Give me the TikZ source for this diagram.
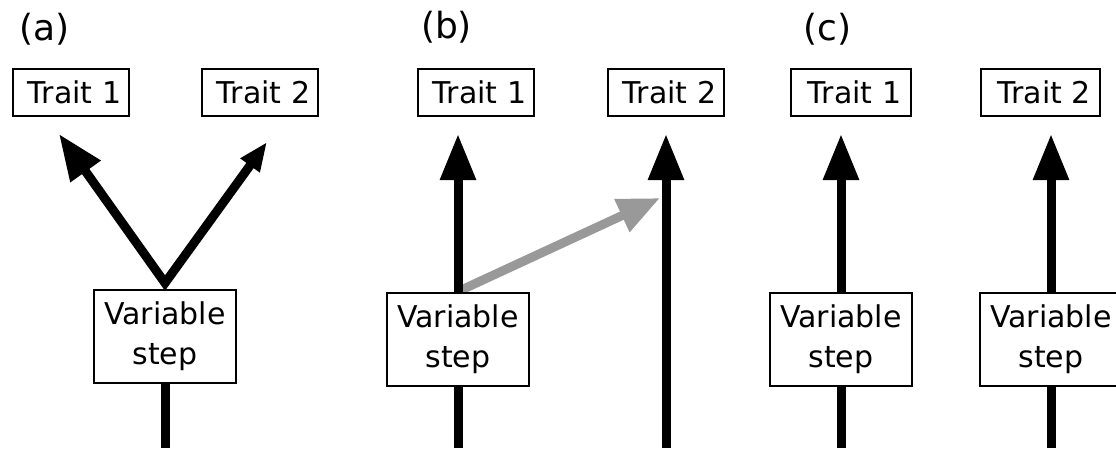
\documentclass[tikz,border=0pt]{standalone}
\usepackage{fontspec}
\setmainfont{DejaVu Sans}
\usetikzlibrary{arrows.meta,backgrounds}
\definecolor{arrowgray}{RGB}{153,153,153}
\begin{document}
\begin{tikzpicture}[x=1pt,y=-1pt,
  trait/.style={draw,line width=2pt,fill=white,minimum width=116pt,minimum height=47pt,
    inner sep=0pt,font=\fontsize{30}{34}\selectfont,execute at begin node={\hspace{7pt}}},
  varbox/.style={draw,line width=2pt,fill=white,minimum width=142pt,minimum height=93pt,
    inner sep=0pt,align=center,font=\fontsize{30}{40}\selectfont},
  panel/.style={inner sep=0pt,font=\fontsize{36}{40}\selectfont},
  shaft/.style={line width=9pt},
  headed/.style={-{Triangle[length=46pt,width=34pt]}},
  grayhead/.style={-{Triangle[length=42pt,width=34pt]}}]
\useasboundingbox (0,0) rectangle (1116,451);
\clip (0,0) rectangle (1116,451);

% panel labels
\node[panel] (la) at (44.5,29) {(a)};
\node[panel] (lb) at (446.5,27) {(b)};
\node[panel] (lc) at (827.5,29) {(c)};

% trait boxes
\node[trait] (a1) at (71,92.5) {Trait 1};
\node[trait] (a2) at (260,92.5) {Trait 2};
\node[trait] (b1) at (476,92.5) {Trait 1};
\node[trait] (b2) at (666,92.5) {Trait 2};
\node[trait,minimum width=120pt] (c1) at (851,92.5) {Trait 1};
\node[trait,minimum width=119pt] (c2) at (1040.5,92.5) {Trait 2};

% variable steps
\node[varbox] (va) at (165,336) {Variable\\step};
\node[varbox] (vb) at (458,339) {Variable\\step};
\node[varbox] (vc1) at (841,339) {Variable\\step};
\node[varbox] (vc2) at (1051,339) {Variable\\step};

% free ends of the connectors
\coordinate (apex) at ([yshift=5.5pt]va.north);
\coordinate (ta1) at (59,134);
\coordinate (ta2) at (267,142);
\coordinate (ea) at (165,448);
\coordinate (tb1) at (458,134);
\coordinate (eb1) at (458,448);
\coordinate (tb2) at (666,134);
\coordinate (eb2) at (666,448);
\coordinate (gtip) at (660,198);
\coordinate (tc1) at (841,134);
\coordinate (ec1) at (841,448);
\coordinate (tc2) at (1051,134);
\coordinate (ec2) at (1051,448);

\begin{scope}[on background layer]
  % (a) one step feeding both traits
  \draw[shaft,line join=miter,{Triangle[length=46pt,width=35pt]}-{Triangle[length=29pt,width=22pt]}]
    (ta1) -- (apex) -- (ta2);
  \draw[shaft] (ea) -- (va.south);
  % (b) step on trait 1 with a side effect on trait 2
  \draw[shaft,arrowgray,grayhead] (vb.north) -- (gtip);
  \draw[shaft] (eb1) -- (vb.south);
  \draw[shaft,headed] (vb.north) -- (tb1);
  \draw[shaft,headed] (eb2) -- (tb2);
  % (c) independent steps
  \draw[shaft] (ec1) -- (vc1.south);
  \draw[shaft,headed] (vc1.north) -- (tc1);
  \draw[shaft] (ec2) -- (vc2.south);
  \draw[shaft,headed] (vc2.north) -- (tc2);
\end{scope}
\end{tikzpicture}
\end{document}
